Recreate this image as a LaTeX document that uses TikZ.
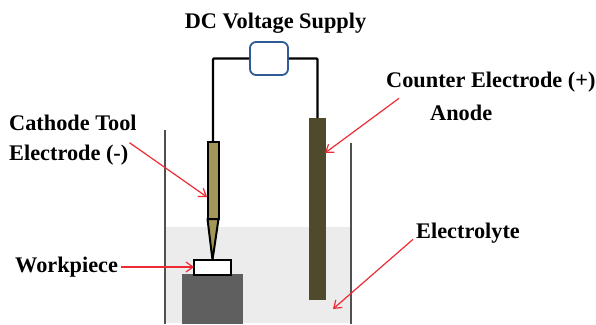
\documentclass[tikz,border=0pt]{standalone}
\usepackage{fontspec}
\setmainfont{Liberation Serif}
\usetikzlibrary{arrows.meta,positioning}
\definecolor{toolcol}{HTML}{A39757}
\definecolor{anodecol}{HTML}{4F4A2B}
\definecolor{blockcol}{HTML}{5F5F5F}
\definecolor{bathcol}{HTML}{ECECEC}
\definecolor{supplycol}{HTML}{2F5A96}
\definecolor{wallcol}{HTML}{505050}
\definecolor{arrowcol}{HTML}{EE2A35}

\begin{document}
\begin{tikzpicture}[
  x=1pt, y=-1pt,
  part/.style={draw=black, line width=2pt, minimum width=#1, inner sep=0pt, outer sep=0pt},
  label/.style={font=\bfseries\fontsize{22.3}{26}\selectfont, inner sep=0pt, text=black},
  wire/.style={draw=black, line width=2.4pt},
  wall/.style={draw=wallcol, line width=1.6pt},
  pointer/.style={draw=arrowcol, line width=1.2pt, -{Straight Barb[length=7pt,width=10pt]}},
  >={Stealth[]}
]
\useasboundingbox (0,0) rectangle (596,324);
% bath
\fill[bathcol] (166,227) rectangle (351,323);
\draw[wall] (165,130) -- (165,324);
\draw[wall] (351,143) -- (351,324);
% parts
\node[draw=none, fill=blockcol, minimum width=61pt, minimum height=50pt, inner sep=0pt] (block) at (212.5,299) {};
\node[part=37pt, fill=white, minimum height=15pt] (work) at (212.5,267.5) {};
\node[part=11pt, fill=toolcol, minimum height=77pt] (tool) at (213,180.5) {};
\node[draw=none, fill=anodecol, minimum width=17pt, minimum height=182pt, inner sep=0pt] (anode) at (317.5,209) {};
\filldraw[fill=toolcol, draw=black, line width=2pt, line join=round]
  (tool.south west) -- (tool.south east) -- (work.north) -- cycle;
\node[draw=supplycol, fill=white, line width=1.8pt, rounded corners=6pt, minimum width=38pt, minimum height=33pt, inner sep=0pt] (supply) at (269,58.5) {};
\draw[wire, rounded corners=1pt] (supply.west) -| (tool.north);
\draw[wire, rounded corners=1pt] (supply.east) -| (anode.north);
% labels
\node[label] (title) at (275.5,23) {DC Voltage Supply};
\node[label, anchor=west] (cathode) at (9,123) {Cathode Tool};
\node[label, anchor=west] (electrode) at (9,155) {Electrode (-)};
\node[label, anchor=west] (workpiece) at (15,267) {Workpiece};
\node[label, anchor=west] (counter) at (386,82) {Counter Electrode (+)};
\node[label, anchor=west] (anodetxt) at (430,113) {Anode};
\node[label, anchor=west] (electrolyte) at (416,233) {Electrolyte};
% arrows
\coordinate (toolpt) at (207,197);
\coordinate (anodept) at (325,153);
\coordinate (bathpt) at (333,309);
\draw[pointer] (electrode.north east) ++(1,-2) coordinate (c1) (c1) -- (toolpt);
\draw[pointer] (workpiece.east) ++(3,0) coordinate (c2) (c2) -- (work.west |- c2);
\draw[pointer] (counter.south west) ++(13,6) coordinate (c3) (c3) -- (anodept);
\draw[pointer] (electrolyte.south west) ++(-3,-4) coordinate (c4) (c4) -- (bathpt);
\end{tikzpicture}
\end{document}
